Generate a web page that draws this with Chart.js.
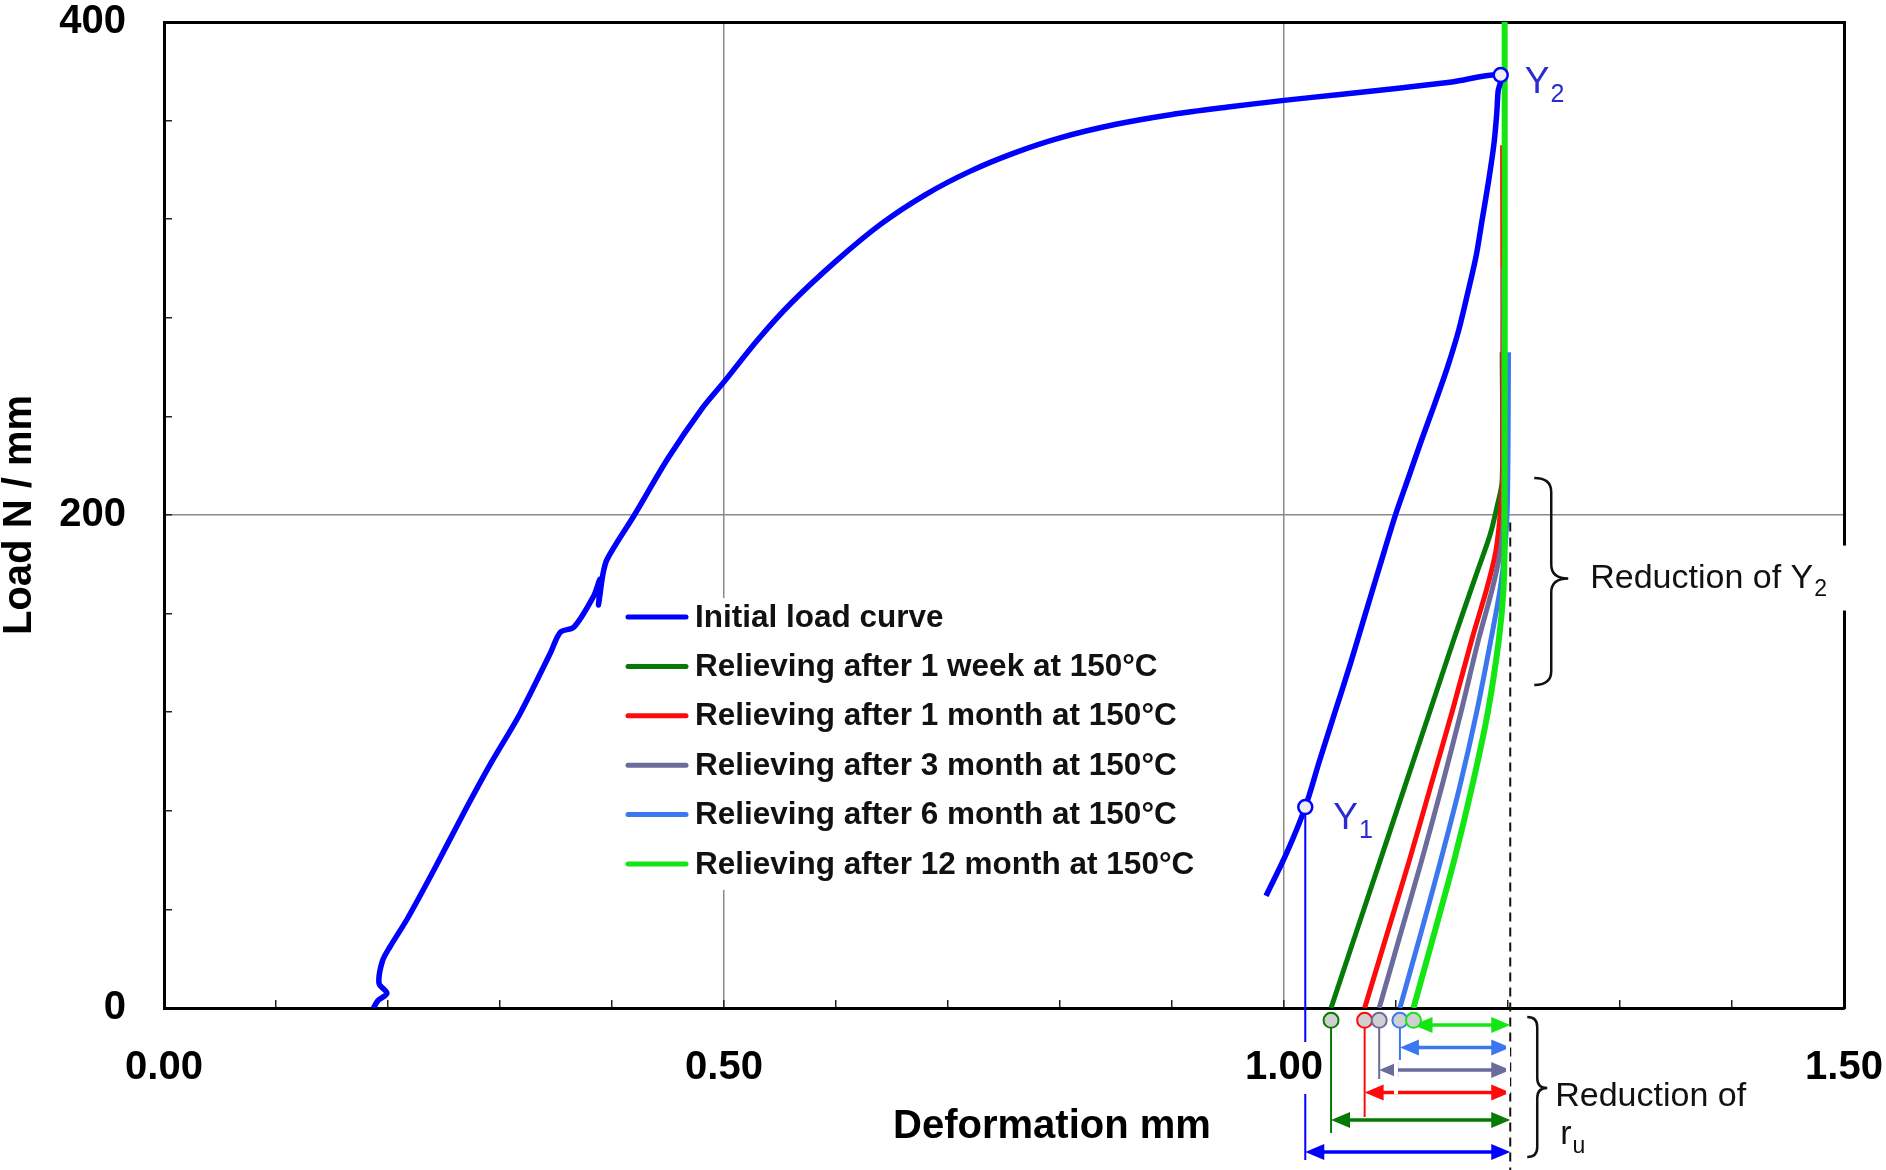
<!DOCTYPE html>
<html>
<head>
<meta charset="utf-8">
<title>Load - deformation, relieving at 150°C</title>
<script src="https://cdn.jsdelivr.net/npm/chart.js@4.4.1/dist/chart.umd.min.js"></script>
<style>
    html, body { margin: 0; padding: 0; background: #ffffff; }
    canvas { display: block; }
</style>
</head>
<body>
<canvas id="loadChart" width="1886" height="1170"></canvas>
<script>
// axis ticks
const xMajorTicks = [0, 0.5, 1.0, 1.5];
const xTickLabels = ['0.00', '0.50', '1.00', '1.50'];
const yMajorTicks = [0, 200, 400];
const yTickLabels = ['0', '200', '400'];

const seriesLabels = [
    'Initial load curve',
    'Relieving after 1 week at 150°C',
    'Relieving after 1 month at 150°C',
    'Relieving after 3 month at 150°C',
    'Relieving after 6 month at 150°C',
    'Relieving after 12 month at 150°C'
];

// initial load curve: loading up to Y2, then unloading past Y1
const initialX = [0.187, 0.191, 0.199, 0.192, 0.195, 0.202, 0.217, 0.241, 0.2675, 0.2915, 0.318, 0.345, 0.354, 0.366,
    0.3835, 0.3895, 0.388, 0.3915, 0.3956, 0.42, 0.45, 0.48, 0.50, 0.53, 0.56, 0.60, 0.64, 0.68, 0.72, 0.76, 0.80,
    0.85, 0.90, 0.95, 1.00, 1.05, 1.10, 1.15, 1.1935,
    1.1912, 1.1898, 1.1873, 1.1825, 1.1770, 1.1715, 1.1640, 1.1560, 1.1460, 1.1345, 1.1225, 1.1110, 1.0995,
    1.0860, 1.0727, 1.0595, 1.0455, 1.0315, 1.0190, 1.0025, 0.9840];
const initialY = [0, 3, 6, 10, 19, 25, 36, 56, 79, 99, 119.5, 144, 152.5, 154.5,
    167, 174, 163.5, 175, 182, 200, 223, 243, 254, 271, 286, 303, 318, 330, 339.5, 347, 353,
    358.5, 362.5, 365.5, 368.2, 370.6, 373, 375.7, 378.5,
    372, 362, 350, 335, 320, 305, 290, 275, 260, 245, 230, 215, 200,
    180, 160, 140, 120, 100, 81.5, 63, 45.5];

// relieving curves, from the x axis upwards
const weekX = [1.042, 1.064, 1.086, 1.108, 1.130, 1.152, 1.171, 1.184, 1.190, 1.1948, 1.1948];
const weekY = [0, 30, 60, 90, 120, 150, 175, 192, 203, 214, 266];
const month1X = [1.072, 1.092, 1.112, 1.131, 1.150, 1.168, 1.181, 1.189, 1.193, 1.1952, 1.1952];
const month1Y = [0, 30, 60, 90, 120, 150, 170, 185, 200, 215, 350];
const month3X = [1.085, 1.104, 1.123, 1.141, 1.158, 1.174, 1.186, 1.193, 1.196, 1.196];
const month3Y = [0, 30, 60, 90, 120, 150, 170, 185, 200, 300];
const month6X = [1.1035, 1.122, 1.140, 1.157, 1.172, 1.185, 1.193, 1.197, 1.1995, 1.2005];
const month6Y = [0, 30, 60, 90, 120, 150, 170, 185, 205, 266];
const month12X = [1.1156, 1.134, 1.152, 1.168, 1.182, 1.192, 1.196, 1.197, 1.197];
const month12Y = [0, 30, 60, 90, 120, 150, 170, 190, 410];

// characteristic points
const y1Point = [1.019, 81.5];
const y2Point = [1.1935, 378.5];
const refDeformation = 1.202;        // dashed line
const dashTopLoad = 197;
const y2ReductionRange = [131, 215];  // brace "Reduction of Y2"
const interceptX = [weekX[0], month1X[0], month3X[0], month6X[0], month12X[0]];

const seriesColors = ['#0000ff', '#067a06', '#ff0a0a', '#6b6b9c', '#3b78f0', '#14e614'];
const FONT = '"Liberation Sans", Arial, Helvetica, sans-serif';
const MARKER_LOAD = -5;

function pts(xs, ys) {
    return xs.map((v, i) => ({ x: v, y: ys[i] }));
}

const curves = [[initialX, initialY], [weekX, weekY], [month1X, month1Y],
    [month3X, month3Y], [month6X, month6Y], [month12X, month12Y]];
const drawOrder = [0, 5, 4, 3, 2, 1];

const datasets = curves.map((c, i) => ({
    label: seriesLabels[i],
    data: pts(c[0], c[1]),
    showLine: true,
    borderColor: seriesColors[i],
    backgroundColor: seriesColors[i],
    borderWidth: i === 0 ? 5.5 : (i === 5 ? 6 : 5),
    pointRadius: 0,
    tension: 0.3,
    order: drawOrder[i]
}));

// Y1 and Y2
datasets.push({
    label: '',
    inLegend: false,
    data: [{ x: y1Point[0], y: y1Point[1] }, { x: y2Point[0], y: y2Point[1] }],
    showLine: false,
    pointRadius: 7,
    pointBackgroundColor: '#eeeef4',
    pointBorderColor: seriesColors[0],
    pointBorderWidth: 2.5,
    clip: false,
    order: -2
});

function fixSize(prop, value) {
    return function (scale) {
        scale[prop] = value;
        scale.paddingTop = 0;
        scale.paddingBottom = 0;
        scale.paddingLeft = 0;
        scale.paddingRight = 0;
    };
}

function near(list, v) {
    return list.findIndex(t => Math.abs(t - v) < 1e-6);
}

function drawArrow(ctx, xa, xb, yy, color) {
    const head = 19, half = 8;
    ctx.strokeStyle = color;
    ctx.fillStyle = color;
    ctx.lineWidth = 3.5;
    ctx.beginPath();
    ctx.moveTo(xa + head - 2, yy);
    ctx.lineTo(xb - head + 2, yy);
    ctx.stroke();
    ctx.beginPath();
    ctx.moveTo(xa, yy);
    ctx.lineTo(xa + head, yy - half);
    ctx.lineTo(xa + head, yy + half);
    ctx.closePath();
    ctx.fill();
    ctx.beginPath();
    ctx.moveTo(xb, yy);
    ctx.lineTo(xb - head, yy - half);
    ctx.lineTo(xb - head, yy + half);
    ctx.closePath();
    ctx.fill();
}

function drawBrace(ctx, left, top, bottom, tipY, width) {
    const xs = left + width / 2;
    const r = Math.min(width / 2, 14);
    ctx.beginPath();
    ctx.moveTo(left, top);
    ctx.quadraticCurveTo(xs, top, xs, top + r);
    ctx.lineTo(xs, tipY - r);
    ctx.quadraticCurveTo(xs, tipY, left + width, tipY);
    ctx.quadraticCurveTo(xs, tipY, xs, tipY + r);
    ctx.lineTo(xs, bottom - r);
    ctx.quadraticCurveTo(xs, bottom, left, bottom);
    ctx.stroke();
}

function subText(ctx, x, y, main, sub, size, color) {
    ctx.fillStyle = color;
    ctx.textAlign = 'left';
    ctx.textBaseline = 'middle';
    ctx.font = size + 'px ' + FONT;
    ctx.fillText(main, x, y);
    const w = ctx.measureText(main).width;
    ctx.font = Math.round(size * 0.68) + 'px ' + FONT;
    ctx.fillText(sub, x + w + 1, y + size * 0.33);
}

const annotations = {
    id: 'annotations',
    afterDatasetsDraw(chart) {
        const { ctx } = chart;
        const x = chart.scales.x, y = chart.scales.y;
        const base = y.getPixelForValue(0);
        const refPx = x.getPixelForValue(refDeformation);
        ctx.save();

        // dashed reference line
        ctx.strokeStyle = '#111';
        ctx.lineWidth = 2;
        ctx.setLineDash([9, 6]);
        ctx.beginPath();
        ctx.moveTo(refPx, y.getPixelForValue(dashTopLoad));
        ctx.lineTo(refPx, chart.height);
        ctx.stroke();
        ctx.setLineDash([]);

        // Y1 drop line
        const y1x = x.getPixelForValue(y1Point[0]);
        ctx.strokeStyle = seriesColors[0];
        ctx.lineWidth = 2;
        ctx.beginPath();
        ctx.moveTo(y1x, y.getPixelForValue(y1Point[1]) + 7);
        ctx.lineTo(y1x, base + 152);
        ctx.stroke();

        // r_u arrows, top row first
        const rows = [
            { from: interceptX[4], color: seriesColors[5], off: 17, drop: 0 },
            { from: interceptX[3], color: seriesColors[4], off: 39.5, drop: 52 },
            { from: interceptX[2], color: seriesColors[3], off: 62, drop: 71 },
            { from: interceptX[1], color: seriesColors[2], off: 84.5, drop: 109 },
            { from: interceptX[0], color: seriesColors[1], off: 112, drop: 125 },
            { from: y1Point[0], color: seriesColors[0], off: 144, drop: 0 }
        ];
        const markerPx = y.getPixelForValue(MARKER_LOAD);
        rows.forEach(r => {
            const px = x.getPixelForValue(r.from);
            if (r.drop) {
                ctx.strokeStyle = r.color;
                ctx.lineWidth = 2;
                ctx.beginPath();
                ctx.moveTo(px, markerPx + 7);
                ctx.lineTo(px, base + r.drop);
                ctx.stroke();
            }
            drawArrow(ctx, px, refPx, base + r.off, r.color);
        });

        // r_u markers just under the axis
        interceptX.forEach((v, i) => {
            ctx.beginPath();
            ctx.arc(x.getPixelForValue(v), markerPx, 7.5, 0, Math.PI * 2);
            ctx.fillStyle = '#d0d0d0';
            ctx.fill();
            ctx.strokeStyle = seriesColors[i + 1];
            ctx.lineWidth = 2;
            ctx.stroke();
        });

        // braces
        ctx.strokeStyle = '#111';
        ctx.lineWidth = 2.5;
        const bTop = y.getPixelForValue(y2ReductionRange[1]);
        const bBot = y.getPixelForValue(y2ReductionRange[0]);
        drawBrace(ctx, refPx + 24, bTop, bBot, (bTop + bBot) / 2 - 3, 34);
        drawBrace(ctx, refPx + 17, base + 9, base + 149, base + 80, 20);
        ctx.restore();
    },
    afterDraw(chart) {
        const { ctx } = chart;
        const x = chart.scales.x, y = chart.scales.y;
        const base = y.getPixelForValue(0);
        const refPx = x.getPixelForValue(refDeformation);
        ctx.save();

        // legend with white background
        const lx = 628, ly = 617, rowH = 49.4;
        ctx.fillStyle = '#ffffff';
        ctx.fillRect(618, 598, 600, 292);
        chart.data.datasets.filter(d => d.inLegend !== false).forEach((d, i) => {
            const yy = ly + i * rowH;
            ctx.strokeStyle = d.borderColor;
            ctx.lineWidth = 5;
            ctx.lineCap = 'round';
            ctx.beginPath();
            ctx.moveTo(lx, yy);
            ctx.lineTo(lx + 58, yy);
            ctx.stroke();
            ctx.fillStyle = '#111';
            ctx.font = 'bold 31.5px ' + FONT;
            ctx.textAlign = 'left';
            ctx.textBaseline = 'middle';
            ctx.fillText(d.label, lx + 67, yy + 1);
        });

        // Y1, Y2 labels
        const y1px = x.getPixelForValue(y1Point[0]), y1py = y.getPixelForValue(y1Point[1]);
        const y2px = x.getPixelForValue(y2Point[0]), y2py = y.getPixelForValue(y2Point[1]);
        subText(ctx, y1px + 28, y1py + 12, 'Y', '1', 37, '#2b2bd0');
        subText(ctx, y2px + 24, y2py + 8, 'Y', '2', 37, '#2b2bd0');

        // Reduction of Y2 (covers the right border)
        const midY2 = (y.getPixelForValue(y2ReductionRange[0]) + y.getPixelForValue(y2ReductionRange[1])) / 2 - 3;
        ctx.fillStyle = '#ffffff';
        ctx.fillRect(refPx + 76, midY2 - 33, 272, 65);
        subText(ctx, refPx + 80, midY2, 'Reduction of Y', '2', 34, '#111');

        // Reduction of r_u
        ctx.fillStyle = '#111';
        ctx.font = '34px ' + FONT;
        ctx.textAlign = 'left';
        ctx.textBaseline = 'middle';
        ctx.fillText('Reduction of', refPx + 45, base + 89);
        subText(ctx, refPx + 50, base + 127, 'r', 'u', 34, '#111');

        // x axis title
        ctx.fillStyle = '#000';
        ctx.font = 'bold 40px ' + FONT;
        ctx.textAlign = 'center';
        ctx.textBaseline = 'middle';
        ctx.fillText('Deformation mm', 1052, base + 119);
        ctx.restore();
    }
};

new Chart(document.getElementById('loadChart'), {
    type: 'scatter',
    data: { datasets: datasets },
    plugins: [annotations],
    options: {
        responsive: false,
        devicePixelRatio: 1,
        animation: false,
        events: [],
        layout: { padding: { top: 22, right: 42, left: 0, bottom: 0 } },
        plugins: {
            legend: { display: false },
            tooltip: { enabled: false }
        },
        scales: {
            x: {
                type: 'linear',
                position: 'bottom',
                min: 0,
                max: 1.5,
                afterFit: fixSize('height', 162),
                border: { display: true, color: '#000', width: 3 },
                grid: {
                    color: c => (c.tick && (near([0.5, 1.0], c.tick.value) >= 0) ? '#8a8a8a' : 'rgba(0,0,0,0)'),
                    lineWidth: 1.5,
                    tickColor: '#222',
                    tickWidth: 1.5,
                    tickLength: -8
                },
                ticks: {
                    stepSize: 0.1,
                    autoSkip: false,
                    maxRotation: 0,
                    padding: 44,
                    z: 1,
                    showLabelBackdrop: true,
                    backdropColor: '#ffffff',
                    backdropPadding: 2,
                    color: '#000',
                    font: { family: FONT, size: 40, weight: 'bold' },
                    callback: v => {
                        const k = near(xMajorTicks, v);
                        return k < 0 ? '' : xTickLabels[k];
                    }
                }
            },
            y: {
                type: 'linear',
                position: 'left',
                min: 0,
                max: 400,
                afterFit: fixSize('width', 164),
                border: { display: true, color: '#000', width: 3 },
                grid: {
                    color: c => (c.tick && Math.abs(c.tick.value - 200) < 1e-6 ? '#8a8a8a' : 'rgba(0,0,0,0)'),
                    lineWidth: 1.5,
                    tickColor: '#222',
                    tickWidth: 1.5,
                    tickLength: -8
                },
                ticks: {
                    stepSize: 40,
                    autoSkip: false,
                    padding: 46,
                    color: '#000',
                    font: { family: FONT, size: 40, weight: 'bold' },
                    callback: v => {
                        const k = near(yMajorTicks, v);
                        return k < 0 ? '' : yTickLabels[k];
                    }
                },
                title: {
                    display: true,
                    text: 'Load N / mm',
                    color: '#000',
                    padding: 0,
                    font: { family: FONT, size: 40, weight: 'bold', lineHeight: 1 }
                }
            },
            x2: {
                type: 'linear',
                position: 'top',
                min: 0,
                max: 1.5,
                afterFit: fixSize('height', 0),
                border: { display: true, color: '#000', width: 3 },
                grid: { display: false, drawTicks: false },
                ticks: { display: false }
            },
            y2: {
                type: 'linear',
                position: 'right',
                min: 0,
                max: 400,
                afterFit: fixSize('width', 0),
                border: { display: true, color: '#000', width: 3 },
                grid: { display: false, drawTicks: false },
                ticks: { display: false }
            }
        }
    }
});
</script>
</body>
</html>
